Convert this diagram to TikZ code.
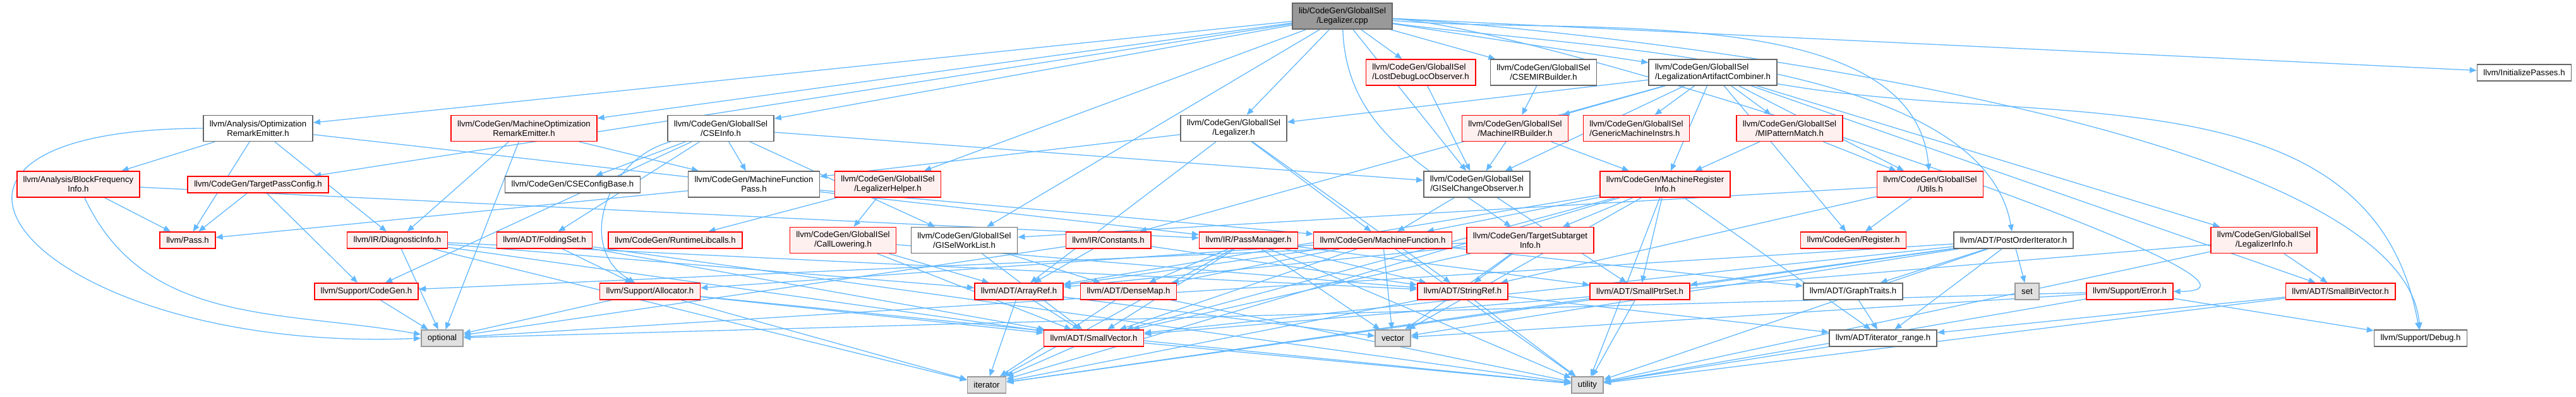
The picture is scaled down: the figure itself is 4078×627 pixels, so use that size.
\documentclass[tikz,border=0pt]{standalone}
\usepackage{fontspec}
\setmainfont{Liberation Sans}
\usepackage{tikz}
\usetikzlibrary{arrows.meta,backgrounds}
\definecolor{edgeblue}{HTML}{63B8FF}
\definecolor{redfill}{HTML}{FFF0F0}
\definecolor{sysfill}{HTML}{E0E0E0}
\definecolor{rootfill}{HTML}{999999}

\begin{document}
\begin{tikzpicture}[
  x=0.5pt, y=-0.5pt,
  font=\fontsize{6.6}{7.5}\selectfont,
  hdr/.style={draw=black!60, fill=white, align=center, inner xsep=5pt,
              inner ysep=0pt, minimum height=13pt, line width=0.8pt},
  two/.style={minimum height=20.5pt},
  trunc/.style={hdr, draw=red, fill=redfill},
  sys/.style={hdr, draw=black!40, fill=sysfill},
  rootbox/.style={hdr, fill=rootfill},
  arr/.style={-{Triangle[length=5.5pt,width=4.5pt]}, color=edgeblue,
              line width=0.65pt}
]
\useasboundingbox (0,0) rectangle (4078,627);
% ---- rank 0 ----
\node[rootbox, two] (root) at (2125,25.5) {lib/CodeGen/GlobalISel\\/Legalizer.cpp};
% ---- rank 1 ----
\node[trunc, two, align=left] (lostdbg) at (2249,114.5) {llvm/CodeGen/GlobalISel\\/LostDebugLocObserver.h};
\node[hdr, two] (csemir) at (2443.5,114.5) {llvm/CodeGen/GlobalISel\\/CSEMIRBuilder.h};
\node[hdr, two, align=left] (combiner) at (2711.5,114.5) {llvm/CodeGen/GlobalISel\\/LegalizationArtifactCombiner.h};
\node[hdr] (initpass) at (3996,115) {llvm/InitializePasses.h};
% ---- rank 2 ----
\node[hdr, two] (ore) at (408.5,203) {llvm/Analysis/Optimization\\RemarkEmitter.h};
\node[trunc, two] (more) at (829.5,203) {llvm/CodeGen/MachineOptimization\\RemarkEmitter.h};
\node[hdr, two] (cseinfo) at (1141,203) {llvm/CodeGen/GlobalISel\\/CSEInfo.h};
\node[hdr, two] (legalizer) at (1953,203) {llvm/CodeGen/GlobalISel\\/Legalizer.h};
\node[trunc, two] (mirbuilder) at (2398.5,203) {llvm/CodeGen/GlobalISel\\/MachineIRBuilder.h};
\node[trunc, two, align=left] (genmi) at (2590.5,203) {llvm/CodeGen/GlobalISel\\/GenericMachineInstrs.h};
\node[trunc, two] (mipm) at (2833,203) {llvm/CodeGen/GlobalISel\\/MIPatternMatch.h};
% ---- rank 3 ----
\node[trunc, two] (bfi) at (124,291.5) {llvm/Analysis/BlockFrequency\\Info.h};
\node[trunc] (tpc) at (408.5,292) {llvm/CodeGen/TargetPassConfig.h};
\node[hdr] (csecfg) at (906.5,292) {llvm/CodeGen/CSEConfigBase.h};
\node[hdr, two] (mfpass) at (1193.5,291.5) {llvm/CodeGen/MachineFunction\\Pass.h};
\node[trunc, two] (lhelper) at (1405.5,291.5) {llvm/CodeGen/GlobalISel\\/LegalizerHelper.h};
\node[hdr, two] (observer) at (2338,291.5) {llvm/CodeGen/GlobalISel\\/GISelChangeObserver.h};
\node[trunc, two] (mri) at (2636,291.5) {llvm/CodeGen/MachineRegister\\Info.h};
\node[trunc, two] (utils) at (3055.5,291.5) {llvm/CodeGen/GlobalISel\\/Utils.h};
% ---- rank 4 ----
\node[trunc] (pass) at (297,380) {llvm/Pass.h};
\node[trunc] (diag) at (629,380) {llvm/IR/DiagnosticInfo.h};
\node[trunc] (folding) at (862,380) {llvm/ADT/FoldingSet.h};
\node[trunc] (libcalls) at (1069,380) {llvm/CodeGen/RuntimeLibcalls.h};
\node[trunc, two] (calllow) at (1334.5,380) {llvm/CodeGen/GlobalISel\\/CallLowering.h};
\node[hdr, two] (worklist) at (1526.5,380) {llvm/CodeGen/GlobalISel\\/GISelWorkList.h};
\node[trunc] (constants) at (1754.5,380) {llvm/IR/Constants.h};
\node[trunc] (passmgr) at (1976.5,380) {llvm/IR/PassManager.h};
\node[trunc] (mfunc) at (2189,380) {llvm/CodeGen/MachineFunction.h};
\node[trunc, two] (subtarget) at (2422.5,380) {llvm/CodeGen/TargetSubtarget\\Info.h};
\node[trunc] (register) at (2934,380) {llvm/CodeGen/Register.h};
\node[hdr] (postorder) at (3187.5,380) {llvm/ADT/PostOrderIterator.h};
\node[trunc, two] (linfo) at (3584,380) {llvm/CodeGen/GlobalISel\\/LegalizerInfo.h};
% ---- rank 5 ----
\node[trunc] (cgen) at (580,461) {llvm/Support/CodeGen.h};
\node[trunc] (alloc) at (1029,461) {llvm/Support/Allocator.h};
\node[trunc] (arrayref) at (1613,461) {llvm/ADT/ArrayRef.h};
\node[trunc] (densemap) at (1786.5,461) {llvm/ADT/DenseMap.h};
\node[trunc] (stringref) at (2315.5,461) {llvm/ADT/StringRef.h};
\node[trunc] (ptrset) at (2596,461) {llvm/ADT/SmallPtrSet.h};
\node[hdr] (gtraits) at (2933.5,461) {llvm/ADT/GraphTraits.h};
\node[sys] (set) at (3209,461) {set};
\node[trunc] (error) at (3371.5,461) {llvm/Support/Error.h};
\node[trunc] (bitvec) at (3705,461) {llvm/ADT/SmallBitVector.h};
% ---- rank 6 / 7 ----
\node[sys] (optional) at (700,535) {optional};
\node[trunc] (smallvec) at (1731.5,535) {llvm/ADT/SmallVector.h};
\node[sys] (vector) at (2205,535) {vector};
\node[hdr] (itrange) at (2981,535) {llvm/ADT/iterator\_range.h};
\node[hdr] (debug) at (3832,535) {llvm/Support/Debug.h};
\node[sys] (iterator) at (1562,609) {iterator};
\node[sys] (utility) at (2513,609) {utility};
% ---- includes ----
\begin{scope}[on background layer]
% the .cpp itself
\draw[arr] (root) -- (legalizer);
\draw[arr] (root) to[out=-8, in=100, looseness=0.7] (postorder);
\draw[arr] (root) -- (ore);
\draw[arr] (root) -- (cseinfo);
\draw[arr] (root) -- (csemir);
\draw[arr] (root) -- (observer);
\draw[arr] (root) -- (worklist);
\draw[arr] (root) -- (combiner);
\draw[arr] (root) -- (lhelper);
\draw[arr] (root) -- (lostdbg);
\draw[arr] (root) to[out=-5, in=95, looseness=0.8] (utils);
\draw[arr] (root) -- (more);
\draw[arr] (root) -- (tpc);
\draw[arr] (root) to[out=-88, in=145] (subtarget);
\draw[arr] (root) -- (initpass);
\draw[arr] (root) to[out=-3, in=95, looseness=0.5] (debug);
\draw[arr] (root) to[out=-3, in=0, looseness=0.5] (error);
% analysis
\draw[arr] (ore) -- (bfi); \draw[arr] (ore) -- (diag); \draw[arr] (ore) -- (pass);
\draw[arr] (ore) -- (passmgr);
\draw[arr] (ore.west) .. controls (-250,205) and (60,560) .. (optional.west);
\draw[arr] (bfi) -- (passmgr); \draw[arr] (bfi) -- (pass);
\draw[arr] (bfi) to[out=-65, in=170] (optional);
\draw[arr] (tpc) -- (pass); \draw[arr] (tpc) -- (cgen);
\draw[arr] (diag) -- (arrayref); \draw[arr] (diag) -- (smallvec); \draw[arr] (diag) -- (stringref);
\draw[arr] (diag) -- (iterator); \draw[arr] (diag) -- (optional);
\draw[arr] (cgen) -- (optional);
\draw[arr] (more) -- (diag); \draw[arr] (more) -- (mfpass); \draw[arr] (more) -- (optional);
% CSE
\draw[arr] (cseinfo) -- (csecfg); \draw[arr] (cseinfo) -- (observer); \draw[arr] (cseinfo) -- (worklist);
\draw[arr] (cseinfo) -- (mfpass); \draw[arr] (cseinfo) -- (folding); \draw[arr] (cseinfo) -- (cgen);
\draw[arr] (cseinfo) to[out=195, in=150, looseness=1.2] (alloc);
\draw[arr] (mfpass) -- (mfunc); \draw[arr] (mfpass) -- (pass);
\draw[arr] (folding) -- (alloc); \draw[arr] (folding) -- (smallvec); \draw[arr] (folding) -- (utility);
\draw[arr] (alloc) -- (smallvec); \draw[arr] (alloc) -- (optional); \draw[arr] (alloc) -- (iterator);
\draw[arr] (alloc) -- (utility);
% legalizer side
\draw[arr] (lhelper) -- (calllow); \draw[arr] (lhelper) -- (libcalls);
\draw[arr] (calllow) -- (arrayref); \draw[arr] (calllow) -- (smallvec); \draw[arr] (calllow) -- (stringref);
\draw[arr] (worklist) -- (densemap); \draw[arr] (worklist) -- (smallvec);
\draw[arr] (constants) -- (arrayref); \draw[arr] (constants) -- (stringref); \draw[arr] (constants) -- (optional);
\draw[arr] (passmgr) -- (densemap); \draw[arr] (passmgr) -- (ptrset); \draw[arr] (passmgr) -- (smallvec);
\draw[arr] (passmgr) -- (stringref); \draw[arr] (passmgr) -- (vector); \draw[arr] (passmgr) -- (utility);
\draw[arr] (passmgr) -- (iterator);
\draw[arr] (legalizer) -- (mfpass); \draw[arr] (legalizer) -- (arrayref);
\draw[arr] (legalizer) -- (stringref); \draw[arr] (legalizer) -- (mfunc);
\draw[arr] (combiner) -- (genmi); \draw[arr] (combiner) -- (mipm); \draw[arr] (combiner) -- (mri);
\draw[arr] (combiner) -- (register); \draw[arr] (combiner) -- (utils); \draw[arr] (combiner) -- (bitvec);
\draw[arr] (combiner) to[out=-10, in=100] (debug); \draw[arr] (combiner) -- (linfo);
\draw[arr] (combiner) -- (legalizer); \draw[arr] (combiner) -- (mirbuilder);
\draw[arr] (combiner) -- (observer); \draw[arr] (combiner) -- (constants);
\draw[arr] (csemir) -- (mirbuilder);
\draw[arr] (lostdbg) -- (observer);
\draw[arr] (mirbuilder) -- (observer); \draw[arr] (mirbuilder) -- (mri);
\draw[arr] (mipm) -- (mri); \draw[arr] (mipm) -- (utils);
\draw[arr] (observer) -- (mfunc); \draw[arr] (observer) -- (ptrset);
\draw[arr] (mri) -- (mfunc); \draw[arr] (mri) -- (subtarget); \draw[arr] (mri) -- (ptrset);
\draw[arr] (mri) -- (itrange); \draw[arr] (mri) -- (arrayref); \draw[arr] (mri) -- (smallvec);
\draw[arr] (mri) -- (vector); \draw[arr] (mri) -- (utility); \draw[arr] (mri) -- (iterator);
\draw[arr] (utils) -- (register); \draw[arr] (utils) -- (worklist); \draw[arr] (utils) -- (stringref);
% ADT and support
\draw[arr] (mfunc) -- (arrayref); \draw[arr] (mfunc) -- (densemap); \draw[arr] (mfunc) -- (smallvec);
\draw[arr] (mfunc) -- (gtraits); \draw[arr] (mfunc) -- (alloc); \draw[arr] (mfunc) -- (vector);
\draw[arr] (mfunc) -- (utility);
\draw[arr] (subtarget) -- (arrayref); \draw[arr] (subtarget) -- (smallvec); \draw[arr] (subtarget) -- (stringref);
\draw[arr] (subtarget) -- (cgen); \draw[arr] (subtarget) -- (vector);
\draw[arr] (postorder) -- (gtraits); \draw[arr] (postorder) -- (set); \draw[arr] (postorder) -- (itrange);
\draw[arr] (postorder) -- (ptrset); \draw[arr] (postorder) -- (smallvec); \draw[arr] (postorder) -- (utility);
\draw[arr] (postorder) -- (optional); \draw[arr] (postorder) -- (iterator); \draw[arr] (postorder) -- (vector);
\draw[arr] (linfo) -- (bitvec); \draw[arr] (linfo) -- (smallvec); \draw[arr] (linfo) -- (utility);
\draw[arr] (arrayref) -- (smallvec); \draw[arr] (arrayref) -- (iterator); \draw[arr] (arrayref) -- (vector);
\draw[arr] (densemap) -- (iterator); \draw[arr] (densemap) -- (utility);
\draw[arr] (stringref) -- (utility); \draw[arr] (stringref) -- (itrange); \draw[arr] (stringref) -- (iterator);
\draw[arr] (ptrset) -- (utility); \draw[arr] (ptrset) -- (iterator);
\draw[arr] (gtraits) -- (itrange);
\draw[arr] (error) -- (debug); \draw[arr] (error) -- (optional); \draw[arr] (error) -- (vector);
\draw[arr] (error) -- (utility);
\draw[arr] (bitvec) -- (itrange); \draw[arr] (bitvec) -- (utility);
\draw[arr] (smallvec) -- (iterator); \draw[arr] (smallvec) -- (utility);
\draw[arr] (itrange) -- (utility);
\end{scope}
\end{tikzpicture}
\end{document}
